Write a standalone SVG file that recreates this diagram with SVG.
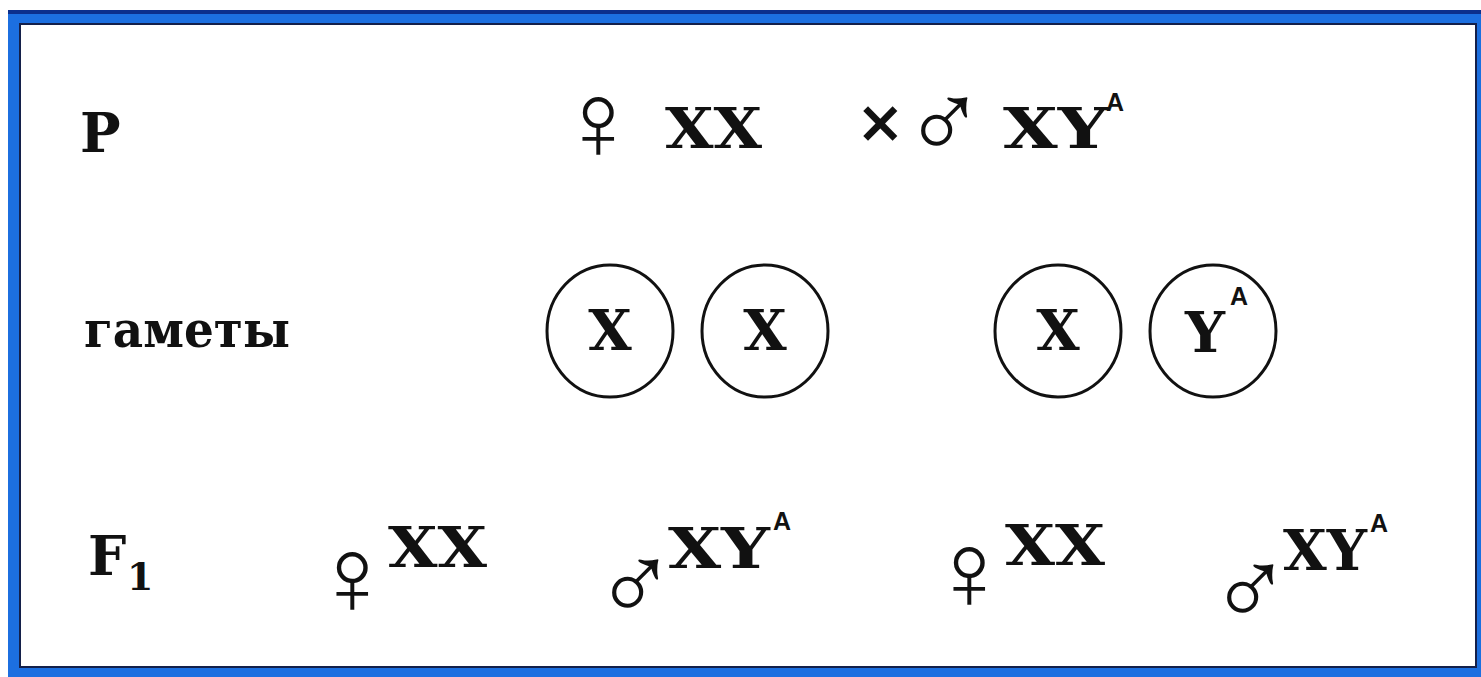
<svg xmlns="http://www.w3.org/2000/svg" width="1481" height="677" viewBox="0 0 1481 677">
<style>
.lbl{font-family:"DejaVu Serif","Liberation Serif",serif;font-weight:bold;fill:#111}
.gen{font-family:"DejaVu Serif","Liberation Serif",serif;font-weight:bold;fill:#111;font-size:56px}
.sup{font-family:"Liberation Sans","Arial",sans-serif;font-weight:bold;fill:#111;font-size:25px}
.sym{font-family:"DejaVu Sans",sans-serif;font-weight:200;fill:#111;font-size:110px}
.gam{fill:none;stroke:#111;stroke-width:3}
</style>
<rect width="1481" height="677" fill="#ffffff"/>
<rect x="8" y="10" width="1473" height="667" fill="#1c6fe0"/>
<rect x="8" y="10" width="1473" height="4" fill="#0c2f8c"/>
<rect x="20" y="24" width="1456" height="643" fill="#ffffff" stroke="#14204a" stroke-width="2"/>

<g id="labels">
<text class="lbl" x="80" y="152" font-size="54">P</text>
<text class="lbl" x="84" y="347" font-size="50" textLength="206" lengthAdjust="spacingAndGlyphs">гаметы</text>
<text class="lbl" x="88" y="575" font-size="54">F</text>
<text class="lbl" x="127" y="590" font-size="38">1</text>
</g>

<g id="parents">
<text class="sym" x="557" y="159">♀</text>
<text class="gen" x="665" y="148" textLength="97" lengthAdjust="spacingAndGlyphs">XX</text>
<text class="sym" x="856" y="142" style="font-size:58px;font-weight:bold">×</text>
<text class="sym" x="903" y="159">♂</text>
<text class="gen" x="1003" y="148" textLength="105" lengthAdjust="spacingAndGlyphs">XY</text>
<text class="sup" x="1106" y="111">A</text>
</g>

<g id="gamete1">
<ellipse class="gam" cx="610" cy="331" rx="63" ry="66"/>
<text class="gen" x="610" y="350" text-anchor="middle">X</text>
</g>
<g id="gamete2">
<ellipse class="gam" cx="765" cy="331" rx="63" ry="66"/>
<text class="gen" x="765" y="350" text-anchor="middle">X</text>
</g>
<g id="gamete3">
<ellipse class="gam" cx="1058" cy="331" rx="63" ry="66"/>
<text class="gen" x="1058" y="350" text-anchor="middle">X</text>
</g>
<g id="gamete4">
<ellipse class="gam" cx="1213" cy="331" rx="63" ry="66"/>
<text class="gen" x="1205" y="352" text-anchor="middle">Y</text>
<text class="sup" x="1230" y="305">A</text>
</g>

<g id="f1-1">
<text class="sym" x="311" y="614">♀</text>
<text class="gen" x="388" y="567" textLength="99" lengthAdjust="spacingAndGlyphs">XX</text>
</g>
<g id="f1-2">
<text class="sym" x="594" y="621" textLength="60" lengthAdjust="spacing">♂</text>
<text class="gen" x="668" y="568" textLength="102" lengthAdjust="spacingAndGlyphs">XY</text>
<text class="sup" x="773" y="530">A</text>
</g>
<g id="f1-3">
<text class="sym" x="928" y="609">♀</text>
<text class="gen" x="1005" y="565" textLength="100" lengthAdjust="spacingAndGlyphs">XX</text>
</g>
<g id="f1-4">
<text class="sym" x="1209" y="626" textLength="60" lengthAdjust="spacing">♂</text>
<text class="gen" x="1283" y="570" textLength="84" lengthAdjust="spacingAndGlyphs">XY</text>
<text class="sup" x="1370" y="532">A</text>
</g>
<g id="connectors"></g>
</svg>
